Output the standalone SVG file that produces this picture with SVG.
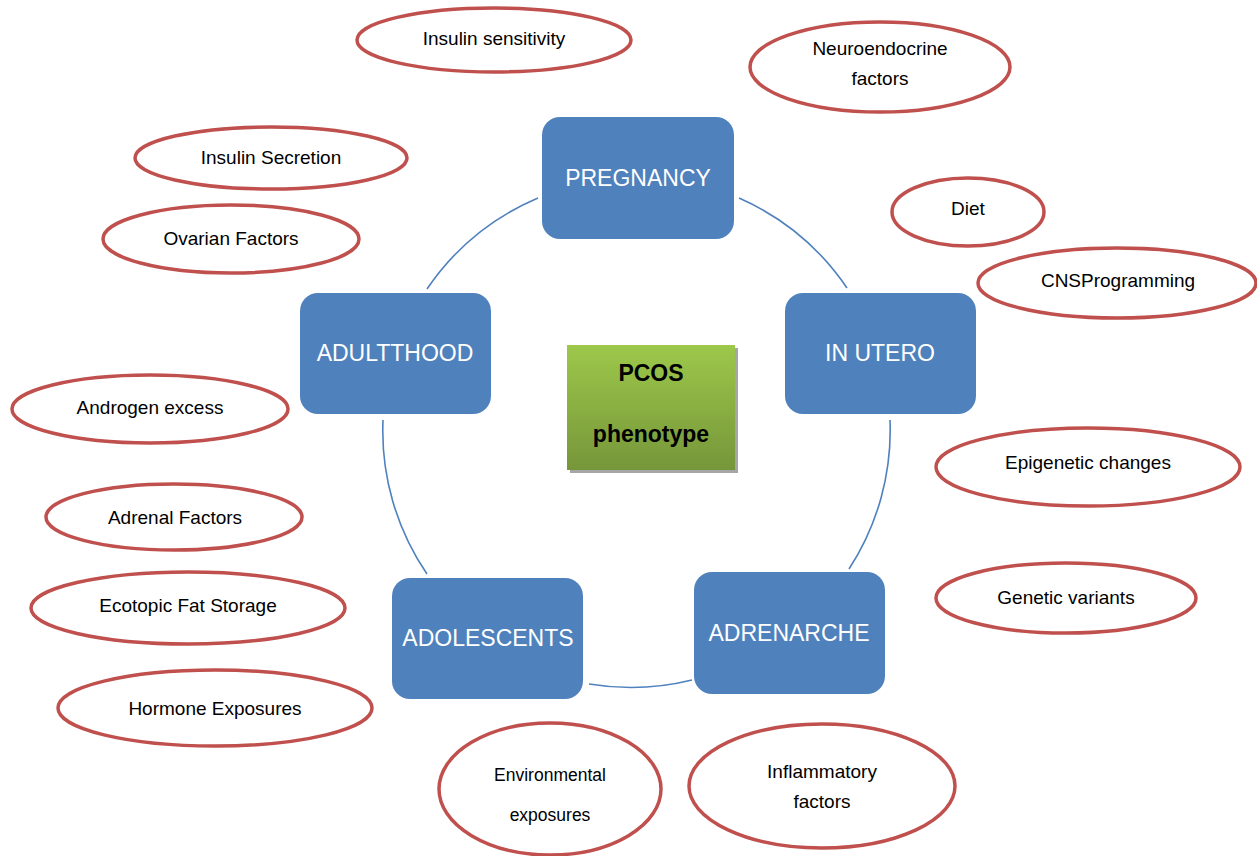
<svg xmlns="http://www.w3.org/2000/svg" width="1257" height="856" viewBox="0 0 1257 856">
<style>
.box{fill:#4f81bd;}
.bt{fill:#fff;font-family:"Liberation Sans",Arial,sans-serif;font-size:23px;text-anchor:middle;dominant-baseline:central;}
.ell{fill:#fff;stroke:#c0504d;stroke-width:3.5;}
.et{fill:#000;font-family:"Liberation Sans",Arial,sans-serif;font-size:19px;text-anchor:middle;dominant-baseline:central;}
.es{font-size:17.5px;}
.conn{fill:none;stroke:#4f81bd;stroke-width:1.6;}
.pt{fill:#000;font-family:"Liberation Sans",Arial,sans-serif;font-size:23px;font-weight:bold;text-anchor:middle;dominant-baseline:central;}
</style>
<defs>
<linearGradient id="g" x1="0" y1="0" x2="0" y2="1">
<stop offset="0" stop-color="#9dc84a"/>
<stop offset="1" stop-color="#76963a"/>
</linearGradient>
</defs>
<rect width="1257" height="856" fill="#fff"/>
<g id="connectors">
<path class="conn" d="M538,198 A254,254 0 0 0 427,289"/>
<path class="conn" d="M739,198 A254,254 0 0 1 847,288"/>
<path class="conn" d="M890,420 A254,254 0 0 1 849,569"/>
<path class="conn" d="M692,680 A254,254 0 0 1 589,684"/>
<path class="conn" d="M427,574 A254,254 0 0 1 383,420"/>
</g>
<g id="pregnancy"><rect class="box" x="542" y="117" width="192" height="122" rx="18"/><text class="bt" x="638" y="178">PREGNANCY</text></g>
<g id="in-utero"><rect class="box" x="785" y="293" width="191" height="121" rx="18"/><text class="bt" x="880" y="353">IN UTERO</text></g>
<g id="adrenarche"><rect class="box" x="694" y="572" width="191" height="122" rx="18"/><text class="bt" x="789" y="633">ADRENARCHE</text></g>
<g id="adolescents"><rect class="box" x="392" y="578" width="191" height="121" rx="18"/><text class="bt" x="488" y="638">ADOLESCENTS</text></g>
<g id="adulthood"><rect class="box" x="300" y="293" width="191" height="121" rx="18"/><text class="bt" x="395" y="353">ADULTTHOOD</text></g>
<g id="pcos">
<rect x="570" y="348" width="168" height="125" fill="#a6a6a6"/>
<rect x="567" y="345" width="168" height="125" fill="url(#g)"/>
<text class="pt" x="651" y="373">PCOS</text>
<text class="pt" x="651" y="434">phenotype</text>
</g>
<g id="insulin-sensitivity"><ellipse class="ell" cx="494" cy="40" rx="137" ry="32"/><text class="et" x="494" y="38">Insulin sensitivity</text></g>
<g id="neuroendocrine"><ellipse class="ell" cx="880" cy="67" rx="130" ry="45"/><text class="et" x="880" y="48">Neuroendocrine</text><text class="et" x="880" y="78">factors</text></g>
<g id="insulin-secretion"><ellipse class="ell" cx="271" cy="158" rx="136" ry="31"/><text class="et" x="271" y="157">Insulin Secretion</text></g>
<g id="ovarian"><ellipse class="ell" cx="231" cy="239" rx="128" ry="34"/><text class="et" x="231" y="238">Ovarian Factors</text></g>
<g id="diet"><ellipse class="ell" cx="968" cy="212" rx="76" ry="34"/><text class="et" x="968" y="208">Diet</text></g>
<g id="cns"><ellipse class="ell" cx="1117" cy="283" rx="139" ry="35"/><text class="et" x="1118" y="280">CNSProgramming</text></g>
<g id="androgen"><ellipse class="ell" cx="150" cy="409" rx="138" ry="34"/><text class="et" x="150" y="407">Androgen excess</text></g>
<g id="epigenetic"><ellipse class="ell" cx="1088" cy="467" rx="152" ry="39"/><text class="et" x="1088" y="462">Epigenetic changes</text></g>
<g id="adrenal"><ellipse class="ell" cx="174" cy="517" rx="128" ry="33"/><text class="et" x="175" y="517">Adrenal Factors</text></g>
<g id="genetic"><ellipse class="ell" cx="1066" cy="598" rx="130" ry="35"/><text class="et" x="1066" y="597">Genetic variants</text></g>
<g id="ectopic"><ellipse class="ell" cx="188" cy="608" rx="157" ry="36"/><text class="et" x="188" y="605">Ecotopic Fat Storage</text></g>
<g id="hormone"><ellipse class="ell" cx="215" cy="708" rx="157" ry="38"/><text class="et" x="215" y="708">Hormone Exposures</text></g>
<g id="environmental"><ellipse class="ell" cx="550" cy="789" rx="111" ry="66"/><text class="et es" x="550" y="775">Environmental</text><text class="et es" x="550" y="815">exposures</text></g>
<g id="inflammatory"><ellipse class="ell" cx="822" cy="786" rx="133" ry="62"/><text class="et" x="822" y="771">Inflammatory</text><text class="et" x="822" y="801">factors</text></g>
</svg>
